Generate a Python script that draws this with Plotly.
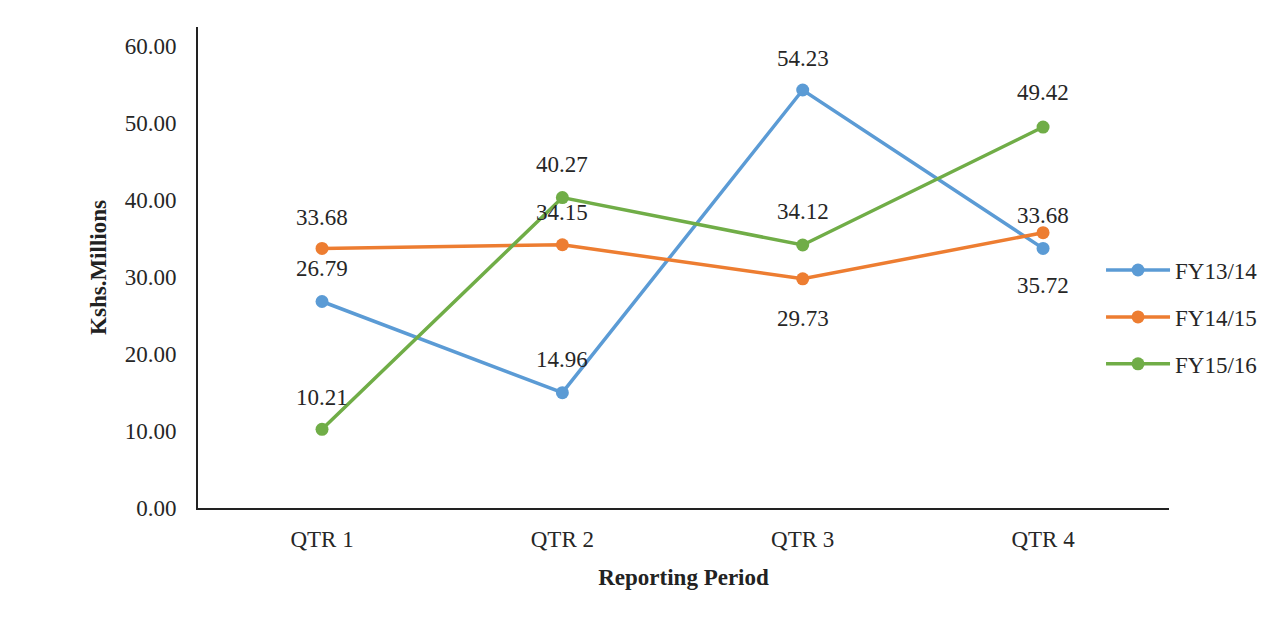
import plotly.graph_objects as go

quarters = ["QTR 1", "QTR 2", "QTR 3", "QTR 4"]
series_names = ["FY13/14", "FY14/15", "FY15/16"]
fy1314 = [26.79, 14.96, 54.23, 33.68]
fy1415 = [33.68, 34.15, 29.73, 35.72]
fy1516 = [10.21, 40.27, 34.12, 49.42]
y_ticks = [0, 10, 20, 30, 40, 50, 60]

colors = ["#5B9BD5", "#ED7D31", "#70AD47"]
# pixel offsets of the value labels relative to their points
label_shift = [
    [33, 33, 31, 33],
    [31, 32, -40, -53],
    [32, 33, 33, 35],
]

FONT = "Liberation Serif"
fig = go.Figure()

for name, vals, col in zip(series_names, [fy1314, fy1415, fy1516], colors):
    fig.add_trace(go.Scatter(
        x=quarters, y=vals, name=name, legendgroup=name,
        mode="lines+markers",
        line=dict(color=col, width=3.5),
        marker=dict(color=col, size=13),
    ))

for vals, shifts in zip([fy1314, fy1415, fy1516], label_shift):
    for q, v, s in zip(quarters, vals, shifts):
        fig.add_annotation(
            x=q, y=v, text=f"{v:.2f}", showarrow=False, yshift=s,
            font=dict(family=FONT, size=23, color="#262626"),
        )

# page body has an 8px margin, so the figure is a bit smaller than the window
fig.update_layout(
    width=1279, height=612,
    margin=dict(l=190, r=118, t=19, b=112),
    paper_bgcolor="white", plot_bgcolor="white",
    font=dict(family=FONT, size=23, color="#262626"),
    showlegend=True,
    legend=dict(
        x=0.93, y=0.397, xanchor="left", yanchor="middle",
        font=dict(family=FONT, size=23, color="#262626"),
        tracegroupgap=14, itemwidth=64, bgcolor="rgba(0,0,0,0)",
    ),
    xaxis=dict(
        type="category", range=[-0.516, 3.524],
        showgrid=False, zeroline=False,
        showline=True, linecolor="#222", linewidth=2,
        ticks="", ticklabelstandoff=9, automargin=False,
        title=dict(text="<b>Reporting Period</b>", standoff=18,
                   font=dict(family=FONT, size=23, color="#222")),
    ),
    yaxis=dict(
        range=[0, 62.4], tickvals=y_ticks, tickformat=".2f",
        showgrid=False, zeroline=False,
        showline=True, linecolor="#222", linewidth=2,
        ticks="", ticklabelstandoff=15, automargin=False,
        title=dict(text="<b>Kshs.Millions</b>", standoff=12,
                   font=dict(family=FONT, size=23, color="#222")),
    ),
)

fig.write_html("out.html")
